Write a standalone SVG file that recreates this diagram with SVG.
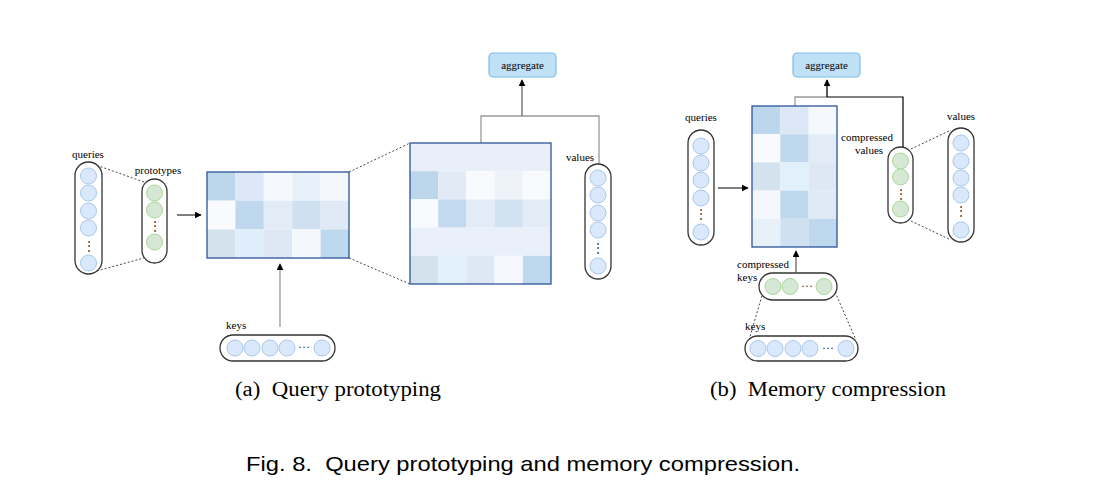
<svg xmlns="http://www.w3.org/2000/svg" width="1114" height="483" viewBox="0 0 1114 483">
<defs>
<marker id="ah" viewBox="0 0 10 10" refX="9" refY="5" markerWidth="7" markerHeight="7" orient="auto" markerUnits="userSpaceOnUse"><path d="M0,0 L10,5 L0,10 z" fill="#000"/></marker>
</defs>
<style>
.pill{fill:#fff;stroke:#333;stroke-width:1.3}
.cb{fill:#dae8fc;stroke:#a9c8ec;stroke-width:1}
.cg{fill:#d5e8d4;stroke:#add59a;stroke-width:1}
.lbl{font-family:"Liberation Serif",serif;font-size:11px;fill:#000}
.dots{font-family:"Liberation Serif",serif;font-size:12px;fill:#333}
.mx{fill:none;stroke:#2c5598;stroke-width:1.3}
.dash{stroke:#333;stroke-width:0.9;stroke-dasharray:2,2;fill:none}
.gl{stroke:#999;stroke-width:1.3;fill:none}
.bl{stroke:#000;stroke-width:1.2;fill:none}
.agg{fill:#bfe1f6;stroke:#7cbde6;stroke-width:1.2}
.aggt{font-family:"Liberation Serif",serif;font-size:11px;fill:#000;text-anchor:middle}
.cap{font-family:"Liberation Serif",serif;font-size:20px;fill:#000;text-anchor:middle}
.fig{font-family:"Liberation Sans",sans-serif;font-size:21px;fill:#000;text-anchor:middle}
</style>
<rect width="1114" height="483" fill="#fff"/>

<g id="connectors">
<line class="dash" x1="93" y1="164" x2="144" y2="182"/>
<line class="dash" x1="93" y1="272" x2="144" y2="258"/>
<line x1="177" y1="215" x2="201" y2="215" stroke="#000" stroke-width="1" marker-end="url(#ah)"/>
<line class="dash" x1="349" y1="172" x2="410" y2="143"/>
<line class="dash" x1="349" y1="258" x2="410" y2="284"/>
<line x1="280" y1="327" x2="280" y2="264" stroke="#999" stroke-width="1.3" marker-end="url(#ah)"/>
<polyline class="gl" points="481,143 481,116 599,116 599,164"/>
<line x1="522" y1="116" x2="522" y2="80" stroke="#666" stroke-width="1.3" marker-end="url(#ah)"/>
<line x1="718" y1="188" x2="748" y2="188" stroke="#000" stroke-width="1" marker-end="url(#ah)"/>
<polyline class="gl" points="795,106 795,97 827,97"/>
<polyline class="bl" points="827,97 903,97 903,147"/>
<line x1="827" y1="97" x2="827" y2="80" stroke="#000" stroke-width="1.3" marker-end="url(#ah)"/>
<line x1="796" y1="272" x2="796" y2="251" stroke="#555" stroke-width="1.2" marker-end="url(#ah)"/>
<line class="dash" x1="911" y1="149" x2="951" y2="130"/>
<line class="dash" x1="911" y1="221" x2="951" y2="240"/>
<line class="dash" x1="763" y1="292" x2="749" y2="340"/>
<line class="dash" x1="835" y1="292" x2="856" y2="340"/>
</g>

<g id="queries-a">
<text class="lbl" x="88" y="158" text-anchor="middle">queries</text>
<rect class="pill" x="75" y="162" width="27" height="112" rx="13.5"/>
<circle class="cb" cx="88.5" cy="176" r="8"/>
<circle class="cb" cx="88.5" cy="193" r="8"/>
<circle class="cb" cx="88.5" cy="211" r="8"/>
<circle class="cb" cx="88.5" cy="228" r="8"/>
<text class="dots" x="88.5" y="250" text-anchor="middle">⋮</text>
<circle class="cb" cx="88.5" cy="263" r="8"/>
</g>

<g id="prototypes">
<text class="lbl" x="158" y="174" text-anchor="middle">prototypes</text>
<rect class="pill" x="142" y="179" width="25" height="84" rx="12.5"/>
<circle class="cg" cx="154.5" cy="193" r="8"/>
<circle class="cg" cx="154.5" cy="210" r="8"/>
<text class="dots" x="154.5" y="230" text-anchor="middle">⋮</text>
<circle class="cg" cx="154.5" cy="242" r="8"/>
</g>

<g id="matrix-a1">
<rect x="207" y="172" width="28.4" height="28.7" fill="#bcd6ec"/>
<rect x="235.4" y="172" width="28.4" height="28.7" fill="#dce8f5"/>
<rect x="263.8" y="172" width="28.4" height="28.7" fill="#f5f8fd"/>
<rect x="292.2" y="172" width="28.4" height="28.7" fill="#e8f0f9"/>
<rect x="320.6" y="172" width="28.4" height="28.7" fill="#f3f7fc"/>
<rect x="207" y="200.7" width="28.4" height="28.7" fill="#f8fafd"/>
<rect x="235.4" y="200.7" width="28.4" height="28.7" fill="#c0d8ee"/>
<rect x="263.8" y="200.7" width="28.4" height="28.7" fill="#e2ebf6"/>
<rect x="292.2" y="200.7" width="28.4" height="28.7" fill="#cfe0f1"/>
<rect x="320.6" y="200.7" width="28.4" height="28.7" fill="#e0eaf6"/>
<rect x="207" y="229.4" width="28.4" height="28.6" fill="#d4e2ee"/>
<rect x="235.4" y="229.4" width="28.4" height="28.6" fill="#e0eefb"/>
<rect x="263.8" y="229.4" width="28.4" height="28.6" fill="#dde8f4"/>
<rect x="292.2" y="229.4" width="28.4" height="28.6" fill="#f4f8fd"/>
<rect x="320.6" y="229.4" width="28.4" height="28.6" fill="#bed8ee"/>
<rect class="mx" x="207" y="172" width="142" height="86"/>
</g>

<g id="matrix-a2">
<rect x="410" y="143" width="141" height="28.2" fill="#e8eff8"/>
<rect x="410" y="171.2" width="28.2" height="28.2" fill="#bcd6ec"/>
<rect x="438.2" y="171.2" width="28.2" height="28.2" fill="#e1eaf5"/>
<rect x="466.4" y="171.2" width="28.2" height="28.2" fill="#f8fafd"/>
<rect x="494.6" y="171.2" width="28.2" height="28.2" fill="#eef3fa"/>
<rect x="522.8" y="171.2" width="28.2" height="28.2" fill="#f8fafd"/>
<rect x="410" y="199.4" width="28.2" height="28.2" fill="#f8fafd"/>
<rect x="438.2" y="199.4" width="28.2" height="28.2" fill="#c2d9ef"/>
<rect x="466.4" y="199.4" width="28.2" height="28.2" fill="#e2ebf6"/>
<rect x="494.6" y="199.4" width="28.2" height="28.2" fill="#d3e2f1"/>
<rect x="522.8" y="199.4" width="28.2" height="28.2" fill="#e2ebf6"/>
<rect x="410" y="227.6" width="141" height="28.2" fill="#e9f0f9"/>
<rect x="410" y="255.8" width="28.2" height="28.2" fill="#d4e2ee"/>
<rect x="438.2" y="255.8" width="28.2" height="28.2" fill="#e2f0fb"/>
<rect x="466.4" y="255.8" width="28.2" height="28.2" fill="#dde8f4"/>
<rect x="494.6" y="255.8" width="28.2" height="28.2" fill="#f5f9fe"/>
<rect x="522.8" y="255.8" width="28.2" height="28.2" fill="#bed8ee"/>
<rect class="mx" x="410" y="143" width="141" height="141"/>
</g>

<g id="aggregate-a">
<rect class="agg" x="489" y="53" width="67" height="24" rx="4"/>
<text class="aggt" x="522.5" y="69">aggregate</text>
</g>

<g id="values-a">
<text class="lbl" x="580" y="161" text-anchor="middle">values</text>
<rect class="pill" x="585" y="164" width="26" height="115" rx="13"/>
<circle class="cb" cx="598" cy="178" r="8"/>
<circle class="cb" cx="598" cy="195" r="8"/>
<circle class="cb" cx="598" cy="213" r="8"/>
<circle class="cb" cx="598" cy="230" r="8"/>
<text class="dots" x="598" y="252" text-anchor="middle">⋮</text>
<circle class="cb" cx="598" cy="266" r="8"/>
</g>

<g id="keys-a">
<text class="lbl" x="226" y="329">keys</text>
<rect class="pill" x="220" y="335" width="115" height="26" rx="13"/>
<circle class="cb" cx="235" cy="348" r="8"/>
<circle class="cb" cx="252" cy="348" r="8"/>
<circle class="cb" cx="270" cy="348" r="8"/>
<circle class="cb" cx="287" cy="348" r="8"/>
<text class="dots" x="304" y="351" text-anchor="middle">···</text>
<circle class="cb" cx="322" cy="348" r="8"/>
</g>

<g id="queries-b">
<text class="lbl" x="701" y="121" text-anchor="middle">queries</text>
<rect class="pill" x="688" y="130" width="26" height="115" rx="13"/>
<circle class="cb" cx="701" cy="146" r="8"/>
<circle class="cb" cx="701" cy="163" r="8"/>
<circle class="cb" cx="701" cy="180" r="8"/>
<circle class="cb" cx="701" cy="198" r="8"/>
<text class="dots" x="701" y="218" text-anchor="middle">⋮</text>
<circle class="cb" cx="701" cy="232" r="8"/>
</g>

<g id="matrix-b">
<rect x="752" y="106" width="28.3" height="28.2" fill="#bcd6ec"/>
<rect x="780.3" y="106" width="28.3" height="28.2" fill="#dce8f5"/>
<rect x="808.6" y="106" width="28.4" height="28.2" fill="#f5f8fd"/>
<rect x="752" y="134.2" width="28.3" height="28.2" fill="#f8fafd"/>
<rect x="780.3" y="134.2" width="28.3" height="28.2" fill="#c0d8ee"/>
<rect x="808.6" y="134.2" width="28.4" height="28.2" fill="#e2ebf6"/>
<rect x="752" y="162.4" width="28.3" height="28.2" fill="#d4e2ee"/>
<rect x="780.3" y="162.4" width="28.3" height="28.2" fill="#e2f0fb"/>
<rect x="808.6" y="162.4" width="28.4" height="28.2" fill="#dde8f4"/>
<rect x="752" y="190.6" width="28.3" height="28.2" fill="#f4f8fd"/>
<rect x="780.3" y="190.6" width="28.3" height="28.2" fill="#bed8ee"/>
<rect x="808.6" y="190.6" width="28.4" height="28.2" fill="#e0eaf6"/>
<rect x="752" y="218.8" width="28.3" height="28.2" fill="#e8f0f9"/>
<rect x="780.3" y="218.8" width="28.3" height="28.2" fill="#cfe0f1"/>
<rect x="808.6" y="218.8" width="28.4" height="28.2" fill="#bed8ee"/>
<rect class="mx" x="752" y="106" width="85" height="141"/>
</g>

<g id="aggregate-b">
<rect class="agg" x="793" y="53" width="67" height="24" rx="4"/>
<text class="aggt" x="826.5" y="69">aggregate</text>
</g>

<g id="compressed-values">
<text class="lbl" x="867" y="141" text-anchor="middle">compressed</text>
<text class="lbl" x="869" y="154" text-anchor="middle">values</text>
<rect class="pill" x="888" y="147" width="25" height="76" rx="12.5"/>
<circle class="cg" cx="900.5" cy="161" r="8"/>
<circle class="cg" cx="900.5" cy="177" r="8"/>
<text class="dots" x="900.5" y="198" text-anchor="middle">⋮</text>
<circle class="cg" cx="900.5" cy="209" r="8"/>
</g>

<g id="values-b">
<text class="lbl" x="961" y="120" text-anchor="middle">values</text>
<rect class="pill" x="948" y="128" width="26" height="114" rx="13"/>
<circle class="cb" cx="961" cy="143" r="8"/>
<circle class="cb" cx="961" cy="161" r="8"/>
<circle class="cb" cx="961" cy="178" r="8"/>
<circle class="cb" cx="961" cy="195" r="8"/>
<text class="dots" x="961" y="215" text-anchor="middle">⋮</text>
<circle class="cb" cx="961" cy="230" r="8"/>
</g>

<g id="compressed-keys">
<text class="lbl" x="737" y="268">compressed</text>
<text class="lbl" x="737" y="281">keys</text>
<rect class="pill" x="759" y="273" width="78" height="27" rx="13.5"/>
<circle class="cg" cx="773" cy="286.5" r="8"/>
<circle class="cg" cx="790" cy="286.5" r="8"/>
<text class="dots" x="807" y="290" text-anchor="middle">···</text>
<circle class="cg" cx="824" cy="286.5" r="8"/>
</g>

<g id="keys-b">
<text class="lbl" x="745" y="330">keys</text>
<rect class="pill" x="745" y="336" width="113" height="25" rx="12.5"/>
<circle class="cb" cx="758" cy="348.5" r="8"/>
<circle class="cb" cx="775" cy="348.5" r="8"/>
<circle class="cb" cx="793" cy="348.5" r="8"/>
<circle class="cb" cx="810" cy="348.5" r="8"/>
<text class="dots" x="828" y="352" text-anchor="middle">···</text>
<circle class="cb" cx="846" cy="348.5" r="8"/>
</g>

<g id="captions">
<text class="cap" x="338" y="396" textLength="206" lengthAdjust="spacingAndGlyphs">(a)&#160; Query prototyping</text>
<text class="cap" x="828" y="396" textLength="236" lengthAdjust="spacingAndGlyphs">(b)&#160; Memory compression</text>
<text class="fig" x="523" y="471" textLength="554" lengthAdjust="spacingAndGlyphs">Fig. 8.&#160; Query prototyping and memory compression.</text>
</g>
</svg>
